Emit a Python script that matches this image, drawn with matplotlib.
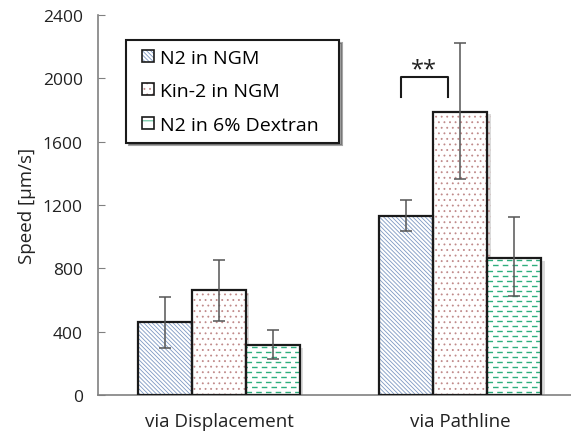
import matplotlib.pyplot as plt
import matplotlib.patheffects as pe
from matplotlib.patches import Patch, Rectangle
from matplotlib.legend_handler import HandlerPatch

# ---- data ----
groups = ["via Displacement", "via Pathline"]
series = ["N2 in NGM", "Kin-2 in NGM", "N2 in 6% Dextran"]
means = [
    [460, 1130],   # N2 in NGM
    [663, 1790],   # Kin-2 in NGM
    [316, 867],    # N2 in 6% Dextran
]
err_lo = [
    [163, 95],
    [196, 428],
    [88, 243],
]
err_hi = [
    [160, 100],
    [192, 433],
    [95, 256],
]
yticks = [0, 400, 800, 1200, 1600, 2000, 2400]

plt.rcParams['font.family'] = ['Open Sans', 'DejaVu Sans']
plt.rcParams['hatch.linewidth'] = 0.6

fig = plt.figure(figsize=(5.71, 4.35), dpi=100)
ax = fig.add_axes([98 / 571, 1 - 396 / 435, 473 / 571, 380 / 435])

w = 0.2236
offsets = [-w, 0, w]
hatches = ['\\\\\\\\\\\\\\\\', '...', None]
hatch_cols = ['#7d98c2', '#c08a8a', '#2fae7e']
shadow = [pe.SimplePatchShadow(offset=(2.5, -2), shadow_rgbFace='#9a9a9a', alpha=0.35), pe.Normal()]

fills = []
for i in range(3):
    xs = [g + offsets[i] for g in range(len(groups))]
    # hatched fill
    fill = ax.bar(xs, means[i], w, color='white', edgecolor=hatch_cols[i],
                  hatch=hatches[i], linewidth=0, zorder=2)
    for p in fill:
        p.set_path_effects(shadow)
    fills.append(fill)
    # outline + error bars
    ax.bar(xs, means[i], w, fill=False, edgecolor='#1a1a1a', linewidth=1.6,
           yerr=[err_lo[i], err_hi[i]], capsize=4,
           error_kw=dict(ecolor='#555555', elinewidth=1.1, capthick=1.1, zorder=5),
           zorder=4)

# dashed green fill for the dextran bars
for p in fills[2]:
    x0, x1 = p.get_x(), p.get_x() + p.get_width()
    top = p.get_height()
    k = 0
    y = 18
    while y < top:
        ln, = ax.plot([x0, x1], [y, y], color=hatch_cols[2], lw=1.0,
                      linestyle=(3 if k % 2 else 0, (4, 3)), zorder=3)
        ln.set_clip_path(p)
        y += 32
        k += 1

# significance bracket
ax.plot([0.7524, 0.7524, 0.948, 0.948], [1882, 2011, 2011, 1882], color='#1a1a1a', lw=1.5, zorder=5)
ax.text(0.85, 2055, "**", ha='center', va='center', fontsize=17, color='#222222')

ax.set_xlim(-0.501, -0.501 + 473 / 241.5)
ax.set_ylim(0, 2400)
ax.set_yticks(yticks)
ax.set_xticks(range(len(groups)))
ax.set_xticklabels(groups, fontsize=13.5)
ax.tick_params(axis='x', length=0, pad=12, colors='#222222')
ax.tick_params(axis='y', direction='in', length=5, color='#808080', labelsize=12.5,
               labelcolor='#222222', pad=11)
for s in ['top', 'right']:
    ax.spines[s].set_visible(False)
for s in ['left', 'bottom']:
    ax.spines[s].set_color('#808080')
    ax.spines[s].set_linewidth(1.2)

ax.set_ylabel("Speed [μm/s]", fontsize=13.5, color='#222222', labelpad=5)


def square_swatch(legend, orig_handle, xdescent, ydescent, width, height, fontsize):
    # small square pushed to the right end of the handle box
    return Rectangle((width - height - xdescent, -ydescent), height, height)


# legend swatches: hatched square with a dark border on top
leg_handles = []
for i in range(3):
    sw = Patch(facecolor='white', edgecolor=hatch_cols[i], hatch=hatches[i] or '--', linewidth=0)
    rim = Patch(fill=False, edgecolor='#1a1a1a', linewidth=1.2)
    leg_handles.append((sw, rim))

leg = ax.legend(leg_handles, series,
                handler_map={Patch: HandlerPatch(patch_func=square_swatch)},
                loc='upper left', bbox_to_anchor=(126 / 571, 1 - 147 / 435, 213 / 571, 106 / 435),
                bbox_transform=fig.transFigure, mode='expand',
                fontsize=14, frameon=True, fancybox=False, shadow=True,
                handlelength=1.0, handleheight=0.57, handletextpad=0.3,
                labelspacing=0.8, borderpad=0.45, borderaxespad=0)
leg.get_frame().set_edgecolor('#1a1a1a')
leg.get_frame().set_linewidth(1.5)

fig.savefig("out.png", dpi=100)
